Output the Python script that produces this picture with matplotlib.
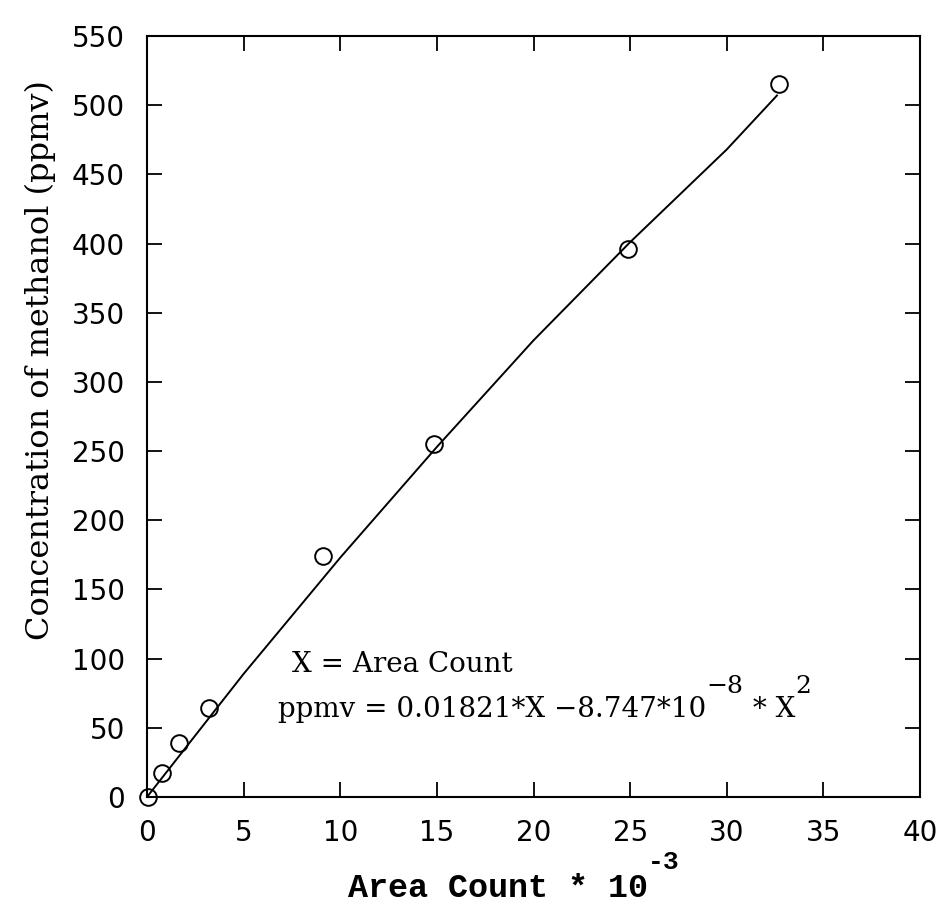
import matplotlib
matplotlib.use("Agg")
import matplotlib.pyplot as plt
from matplotlib import transforms

# measured calibration points (area count in thousands, ppmv)
area_k = [0.05, 0.78, 1.65, 3.22, 9.1, 14.85, 24.9, 32.7]
ppmv = [0, 17, 39, 64, 174, 255, 396, 515]

# fitted curve
fit_x = [0, 5, 10, 15, 20, 25, 30, 32.6]
fit_y = [0, 89, 173, 253, 330, 401, 468, 507]

xticks = [0, 5, 10, 15, 20, 25, 30, 35, 40]
yticks = [0, 50, 100, 150, 200, 250, 300, 350, 400, 450, 500, 550]

W, H = 946, 919
fig = plt.figure(figsize=(W / 100, H / 100), dpi=100)
ax = fig.add_axes([147 / W, 1 - 797 / H, 773 / W, 761 / H])

ax.plot(fit_x, fit_y, 'k-', lw=1.4)
ax.plot(area_k, ppmv, 'o', mfc='none', mec='black', ms=12, mew=1.4,
        clip_on=False, zorder=3)

ax.set_xlim(0, 40)
ax.set_ylim(0, 550)
ax.set_xticks(xticks)
ax.set_yticks(yticks)
ax.tick_params(direction='in', length=11, width=1.3, top=True, right=True,
               labelsize=20, pad=16)
for s in ax.spines.values():
    s.set_linewidth(1.5)

r = fig.canvas.get_renderer()


def chain(x0, y0, parts, trans, **kw):
    # write text pieces one after another; rise is in pixels
    dx = 0
    for s, rise, size in parts:
        tr = transforms.offset_copy(trans, fig=fig, x=dx, y=rise, units='dots')
        t = fig.text(x0, y0, s, transform=tr, fontsize=size, ha='left',
                     va='baseline', **kw)
        bb = t.get_window_extent(r)
        dx += bb.width


# y label
fig.text(40 / W, 1 - 360 / H, 'Concentration of methanol (ppmv)',
         family='DejaVu Serif', fontsize=23, rotation=90,
         ha='center', va='center')

# x label with raised exponent
chain(348 / W, 1 - 897 / H,
      [('Area Count * 10', 0, 24), ('-3', 28, 19)],
      fig.transFigure, family='Liberation Mono', weight='bold')

# fit equation
ann = dict(family='DejaVu Serif')
chain(7.5, 90, [('X = Area Count', 0, 20)], ax.transData, **ann)
chain(6.8, 57.5,
      [('ppmv = 0.01821*X \u22128.747*10', 0, 20), ('\u22128', 24, 18),
       (' * X', 0, 20), ('2', 24, 18)],
      ax.transData, **ann)

plt.savefig('out.png', dpi=100)
